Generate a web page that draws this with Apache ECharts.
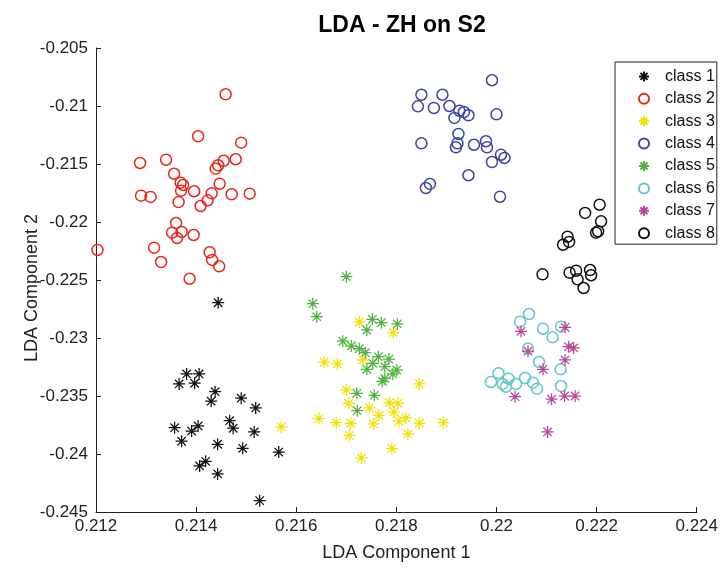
<!DOCTYPE html>
<html>
<head>
<meta charset="utf-8">
<script src="https://cdn.jsdelivr.net/npm/echarts@6/dist/echarts.min.js"></script>
<style>html,body{margin:0;padding:0;background:#fff}#c{width:721px;height:568px}</style>
</head>
<body>
<div id="c"></div>
<script>
const classNames = ['class 1','class 2','class 3','class 4','class 5','class 6','class 7','class 8'];
const xTicks = [0.212, 0.214, 0.216, 0.218, 0.22, 0.222, 0.224];
const yTicks = [-0.245, -0.24, -0.235, -0.23, -0.225, -0.22, -0.215, -0.21, -0.205];

const class1 = [[0.21444,-0.22696],[0.21366,-0.23396],[0.21381,-0.23310],[0.21406,-0.23310],[0.21397,-0.23390],
  [0.21438,-0.23463],[0.21430,-0.23545],[0.21490,-0.23519],[0.21519,-0.23603],[0.21357,-0.23773],
  [0.21391,-0.23802],[0.21404,-0.23758],[0.21467,-0.23713],[0.21474,-0.23778],[0.21516,-0.23810],
  [0.21371,-0.23890],[0.21443,-0.23916],[0.21493,-0.23951],[0.21565,-0.23983],[0.21407,-0.24103],
  [0.21419,-0.24063],[0.21443,-0.24172],[0.21527,-0.24402]];
const class2 = [[0.21459,-0.20899],[0.21404,-0.21261],[0.21490,-0.21316],[0.21288,-0.21491],[0.21340,-0.21463],
  [0.21455,-0.21472],[0.21479,-0.21459],[0.21444,-0.21511],[0.21439,-0.21540],[0.21356,-0.21584],
  [0.21369,-0.21661],[0.21374,-0.21681],[0.21370,-0.21730],[0.21396,-0.21735],[0.21447,-0.21670],
  [0.21290,-0.21773],[0.21309,-0.21784],[0.21365,-0.21828],[0.21409,-0.21862],[0.21423,-0.21813],
  [0.21431,-0.21753],[0.21471,-0.21761],[0.21507,-0.21756],[0.21360,-0.22009],[0.21352,-0.22092],
  [0.21371,-0.22086],[0.21362,-0.22138],[0.21395,-0.22112],[0.21203,-0.22241],[0.21316,-0.22221],
  [0.21330,-0.22345],[0.21427,-0.22261],[0.21432,-0.22327],[0.21446,-0.22382],[0.21387,-0.22489]];
const class3 = [[0.21570,-0.23767],[0.21645,-0.23695],[0.21726,-0.22862],[0.21794,-0.22954],[0.21656,-0.23207],
  [0.21682,-0.23224],[0.21733,-0.23189],[0.21846,-0.23396],[0.21700,-0.23448],[0.21705,-0.23563],
  [0.21786,-0.23558],[0.21803,-0.23563],[0.21746,-0.23603],[0.21795,-0.23638],[0.21765,-0.23666],
  [0.21680,-0.23730],[0.21709,-0.23735],[0.21754,-0.23741],[0.21805,-0.23718],[0.21819,-0.23689],
  [0.21846,-0.23735],[0.21894,-0.23730],[0.21706,-0.23839],[0.21823,-0.23827],[0.21791,-0.23954],
  [0.21730,-0.24034]];
const class4 = [[0.21991,-0.20778],[0.21850,-0.20903],[0.21892,-0.20903],[0.21843,-0.21003],[0.21875,-0.21017],
  [0.21906,-0.21000],[0.21926,-0.21041],[0.21935,-0.21052],[0.21944,-0.21080],[0.21916,-0.21103],
  [0.22000,-0.21072],[0.21924,-0.21241],[0.21850,-0.21322],[0.21922,-0.21322],[0.21919,-0.21356],
  [0.21955,-0.21334],[0.21979,-0.21304],[0.21981,-0.21356],[0.22009,-0.21420],[0.22016,-0.21448],
  [0.21991,-0.21483],[0.21944,-0.21597],[0.21867,-0.21672],[0.21859,-0.21707],[0.22007,-0.21782]];
const class5 = [[0.21700,-0.22471],[0.21633,-0.22704],[0.21641,-0.22816],[0.21752,-0.22839],[0.21770,-0.22868],
  [0.21802,-0.22879],[0.21741,-0.22931],[0.21693,-0.23028],[0.21710,-0.23069],[0.21726,-0.23092],
  [0.21738,-0.23127],[0.21764,-0.23161],[0.21785,-0.23183],[0.21753,-0.23218],[0.21777,-0.23247],
  [0.21741,-0.23270],[0.21801,-0.23276],[0.21793,-0.23310],[0.21777,-0.23351],[0.21772,-0.23373],
  [0.21721,-0.23477],[0.21756,-0.23494],[0.21722,-0.23627]];
const class6 = [[0.22065,-0.22793],[0.22047,-0.22859],[0.22093,-0.22920],[0.22112,-0.22994],[0.22129,-0.22902],
  [0.22063,-0.23091],[0.22085,-0.23207],[0.22128,-0.23270],[0.22004,-0.23304],[0.21989,-0.23379],
  [0.22012,-0.23396],[0.22024,-0.23351],[0.22039,-0.23396],[0.22057,-0.23345],[0.22073,-0.23385],
  [0.22081,-0.23437],[0.22019,-0.23420],[0.22129,-0.23414]];
const class7 = [[0.22049,-0.22942],[0.22137,-0.22908],[0.22063,-0.23114],[0.22144,-0.23075],[0.22154,-0.23086],
  [0.22137,-0.23189],[0.22093,-0.23270],[0.22037,-0.23506],[0.22110,-0.23528],[0.22136,-0.23500],
  [0.22157,-0.23500],[0.22102,-0.23810]];
const class8 = [[0.22206,-0.21851],[0.22177,-0.21922],[0.22209,-0.21994],[0.22199,-0.22092],[0.22203,-0.22080],
  [0.22142,-0.22127],[0.22145,-0.22172],[0.22133,-0.22196],[0.22092,-0.22451],[0.22146,-0.22437],
  [0.22159,-0.22420],[0.22162,-0.22494],[0.22187,-0.22414],[0.22189,-0.22459],[0.22174,-0.22569]];

const classData = [class1, class2, class3, class4, class5, class6, class7, class8];
const classColors = ['#111111','#e8261e','#f2e000','#3a45a6','#4fb33f','#5ec6cc','#b7479c','#111111'];
const classMarkers = ['star','circle','star','circle','star','circle','star','circle'];

const STAR = 'path://M5,0L5,10M0,5L10,5M1.5,1.5L8.5,8.5M8.5,1.5L1.5,8.5';
const FONT = '"Liberation Sans", Arial, sans-serif';

function fmt(v) {
  return String(parseFloat(Number(v).toFixed(3)));
}

const series = classData.map((d, i) => {
  const isStar = classMarkers[i] === 'star';
  return {
    name: classNames[i],
    type: 'scatter',
    data: d,
    symbol: isStar ? STAR : 'circle',
    symbolSize: isStar ? 12 : 11,
    itemStyle: {
      color: isStar ? classColors[i] : 'rgba(0,0,0,0)',
      borderColor: classColors[i],
      borderWidth: isStar ? 1.25 : 1.5,
      opacity: 1
    },
    emphasis: { disabled: true }
  };
});

const chart = echarts.init(document.getElementById('c'), null, { renderer: 'canvas' });
chart.setOption({
  animation: false,
  backgroundColor: '#fff',
  title: {
    text: 'LDA - ZH on S2',
    left: 397, top: 9, textAlign: 'center',
    textStyle: { fontFamily: FONT, fontSize: 23, fontWeight: 'bold', color: '#000' }
  },
  grid: { left: 96, right: 23, top: 48, bottom: 56, containLabel: false },
  legend: {
    orient: 'vertical',
    left: 615, top: 62,
    data: classNames,
    itemWidth: 32, itemHeight: 10, itemGap: 6.4,
    padding: [6.4, 2, 3, 23],
    borderColor: '#222', borderWidth: 1,
    backgroundColor: '#fff',
    textStyle: { fontFamily: FONT, fontSize: 16, lineHeight: 16, color: '#111' },
    selectedMode: false
  },
  xAxis: {
    type: 'value',
    min: xTicks[0], max: xTicks[xTicks.length - 1], interval: 0.002,
    name: 'LDA Component 1', nameLocation: 'middle', nameGap: 32, nameMoveOverlap: false,
    nameTextStyle: { fontFamily: FONT, fontSize: 18, color: '#222' },
    axisLine: { show: true, onZero: false, lineStyle: { color: '#222', width: 1 } },
    axisTick: { show: true, inside: true, length: 5, lineStyle: { color: '#222' } },
    axisLabel: { fontFamily: FONT, fontSize: 17, color: '#222', margin: 6, formatter: fmt },
    splitLine: { show: false }
  },
  yAxis: {
    type: 'value',
    min: yTicks[0], max: yTicks[yTicks.length - 1], interval: 0.005,
    name: 'LDA Component 2', nameLocation: 'middle', nameGap: 55, nameRotate: 90, nameMoveOverlap: false,
    nameTextStyle: { fontFamily: FONT, fontSize: 18, color: '#222', padding: [0, 16, 0, 0] },
    axisLine: { show: true, onZero: false, lineStyle: { color: '#222', width: 1 } },
    axisTick: { show: true, inside: true, length: 5, lineStyle: { color: '#222' } },
    axisLabel: { fontFamily: FONT, fontSize: 17, color: '#222', margin: 8, formatter: fmt },
    splitLine: { show: false }
  },
  series: series
});
</script>
</body>
</html>
